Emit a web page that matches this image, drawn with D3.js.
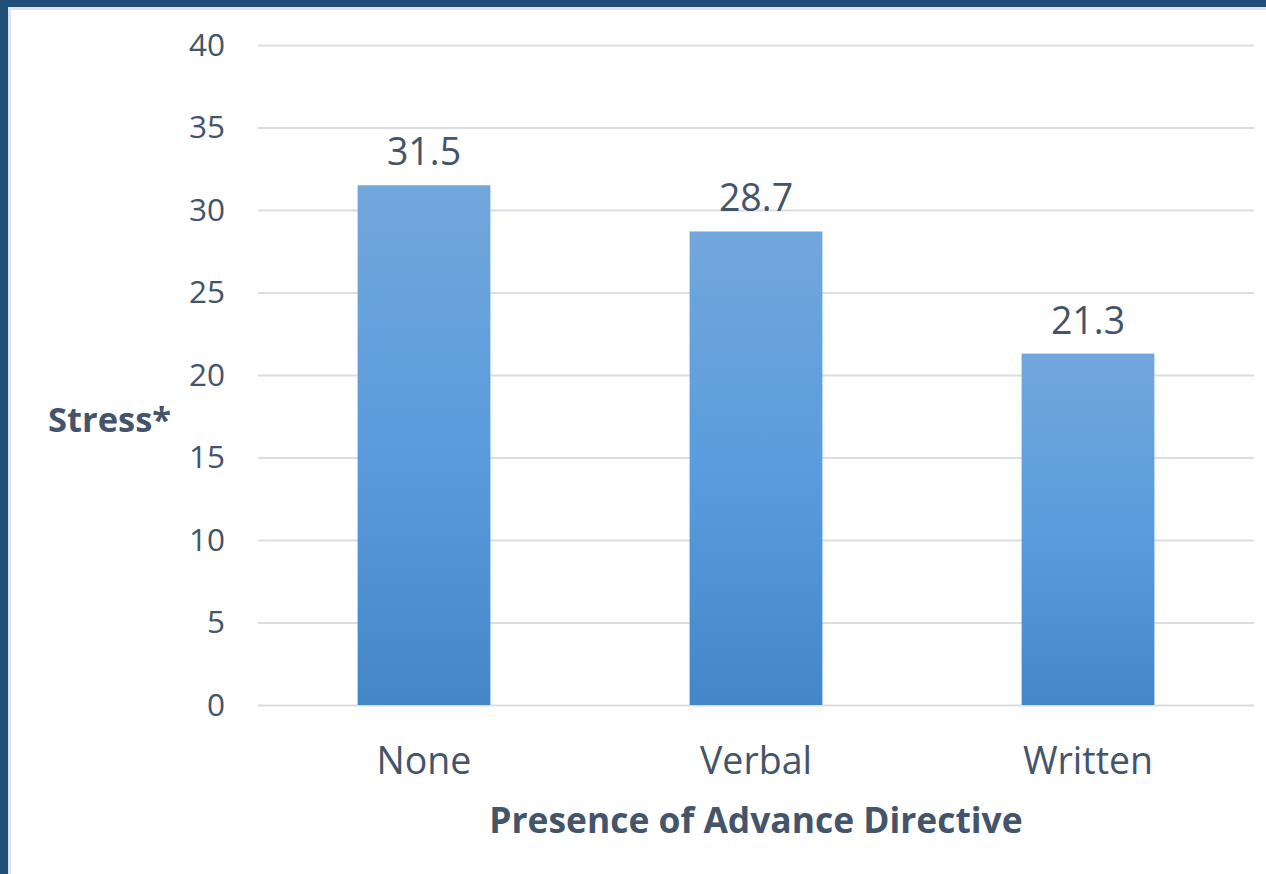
<!DOCTYPE html>
<html>
<head>
<meta charset="utf-8">
<script src="https://cdn.jsdelivr.net/npm/d3@7"></script>
<style>
  html, body { margin: 0; padding: 0; background: #ffffff; }
  svg { display: block; }
</style>
</head>
<body>
<div id="chart"></div>
<script>
// Mean stress score by presence of an advance directive
const categories = ["None", "Verbal", "Written"];
const stressValues = [31.5, 28.7, 21.3];
const yTicks = [0, 5, 10, 15, 20, 25, 30, 35, 40];
const yTitle = "Stress*";
const xTitle = "Presence of Advance Directive";

const W = 1266, H = 874;
const margin = { top: 45, right: 12, bottom: 169, left: 258 };
const innerW = W - margin.left - margin.right;
const innerH = H - margin.top - margin.bottom;
const textColor = "#44546a";

const svg = d3.select("#chart").append("svg")
  .attr("width", W).attr("height", H);

// Frame: dark band on the top and left edges with a thin light inner edge
svg.append("rect").attr("x", 0).attr("y", 0).attr("width", W).attr("height", H).attr("fill", "#ffffff");
svg.append("rect").attr("x", 8).attr("y", 7).attr("width", W - 8).attr("height", 3).attr("fill", "#dfe4eb");
svg.append("rect").attr("x", 8).attr("y", 7).attr("width", 3).attr("height", H - 7).attr("fill", "#dfe4eb");
svg.append("rect").attr("x", 0).attr("y", 0).attr("width", W).attr("height", 7).attr("fill", "#1f4e79");
svg.append("rect").attr("x", 0).attr("y", 0).attr("width", 8).attr("height", H).attr("fill", "#1f4e79");

const defs = svg.append("defs");
const grad = defs.append("linearGradient")
  .attr("id", "barFill").attr("x1", 0).attr("y1", 0).attr("x2", 0).attr("y2", 1);
grad.append("stop").attr("offset", "0%").attr("stop-color", "#72a7db");
grad.append("stop").attr("offset", "50%").attr("stop-color", "#5a9cdd");
grad.append("stop").attr("offset", "100%").attr("stop-color", "#4487c8");

const g = svg.append("g").attr("transform", `translate(${margin.left},${margin.top})`);

const x = d3.scaleBand().domain(categories).range([0, innerW]).paddingInner(0.6).paddingOuter(0.3);
const y = d3.scaleLinear().domain([0, 40]).range([innerH, 0]);

// Horizontal gridlines (including the baseline at zero)
const yAxis = d3.axisLeft(y).tickValues(yTicks).tickSize(-innerW).tickPadding(33);
const yAxisG = g.append("g").call(yAxis);
yAxisG.select(".domain").remove();
yAxisG.selectAll(".tick line").attr("stroke", "#d9dee5").attr("stroke-width", 2);
yAxisG.selectAll(".tick text")
  .attr("fill", textColor)
  .style("font-family", "'Open Sans', sans-serif")
  .style("font-size", "31.5px");

// Bars
g.selectAll("rect.bar").data(categories).enter().append("rect")
  .attr("class", "bar")
  .attr("x", d => x(d))
  .attr("width", x.bandwidth())
  .attr("y", (d, i) => y(stressValues[i]))
  .attr("height", (d, i) => innerH - y(stressValues[i]))
  .attr("fill", "url(#barFill)");

// Value labels above bars
g.selectAll("text.value").data(categories).enter().append("text")
  .attr("class", "value")
  .attr("x", d => x(d) + x.bandwidth() / 2)
  .attr("y", (d, i) => y(stressValues[i]) - 20)
  .attr("text-anchor", "middle")
  .attr("fill", textColor)
  .style("font-family", "'Open Sans', sans-serif")
  .style("font-size", "37.5px")
  .text((d, i) => stressValues[i].toFixed(1));

// Category labels
const xAxis = d3.axisBottom(x).tickSize(0).tickPadding(0);
const xAxisG = g.append("g").attr("transform", `translate(0,${innerH})`).call(xAxis);
xAxisG.select(".domain").remove();
xAxisG.selectAll(".tick text")
  .attr("dy", null)
  .attr("y", 69)
  .attr("fill", textColor)
  .style("font-family", "'Open Sans', sans-serif")
  .style("font-size", "37.5px");

// Axis titles
svg.append("text")
  .attr("x", margin.left + innerW / 2)
  .attr("y", 833)
  .attr("text-anchor", "middle")
  .attr("fill", textColor)
  .style("font-family", "'Open Sans', sans-serif")
  .style("font-weight", "bold")
  .style("font-size", "35.4px")
  .text(xTitle);

svg.append("text")
  .attr("x", 48)
  .attr("y", 432)
  .attr("text-anchor", "start")
  .attr("fill", textColor)
  .style("font-family", "'Open Sans', sans-serif")
  .style("font-weight", "bold")
  .style("font-size", "34.5px")
  .text(yTitle);
</script>
</body>
</html>
